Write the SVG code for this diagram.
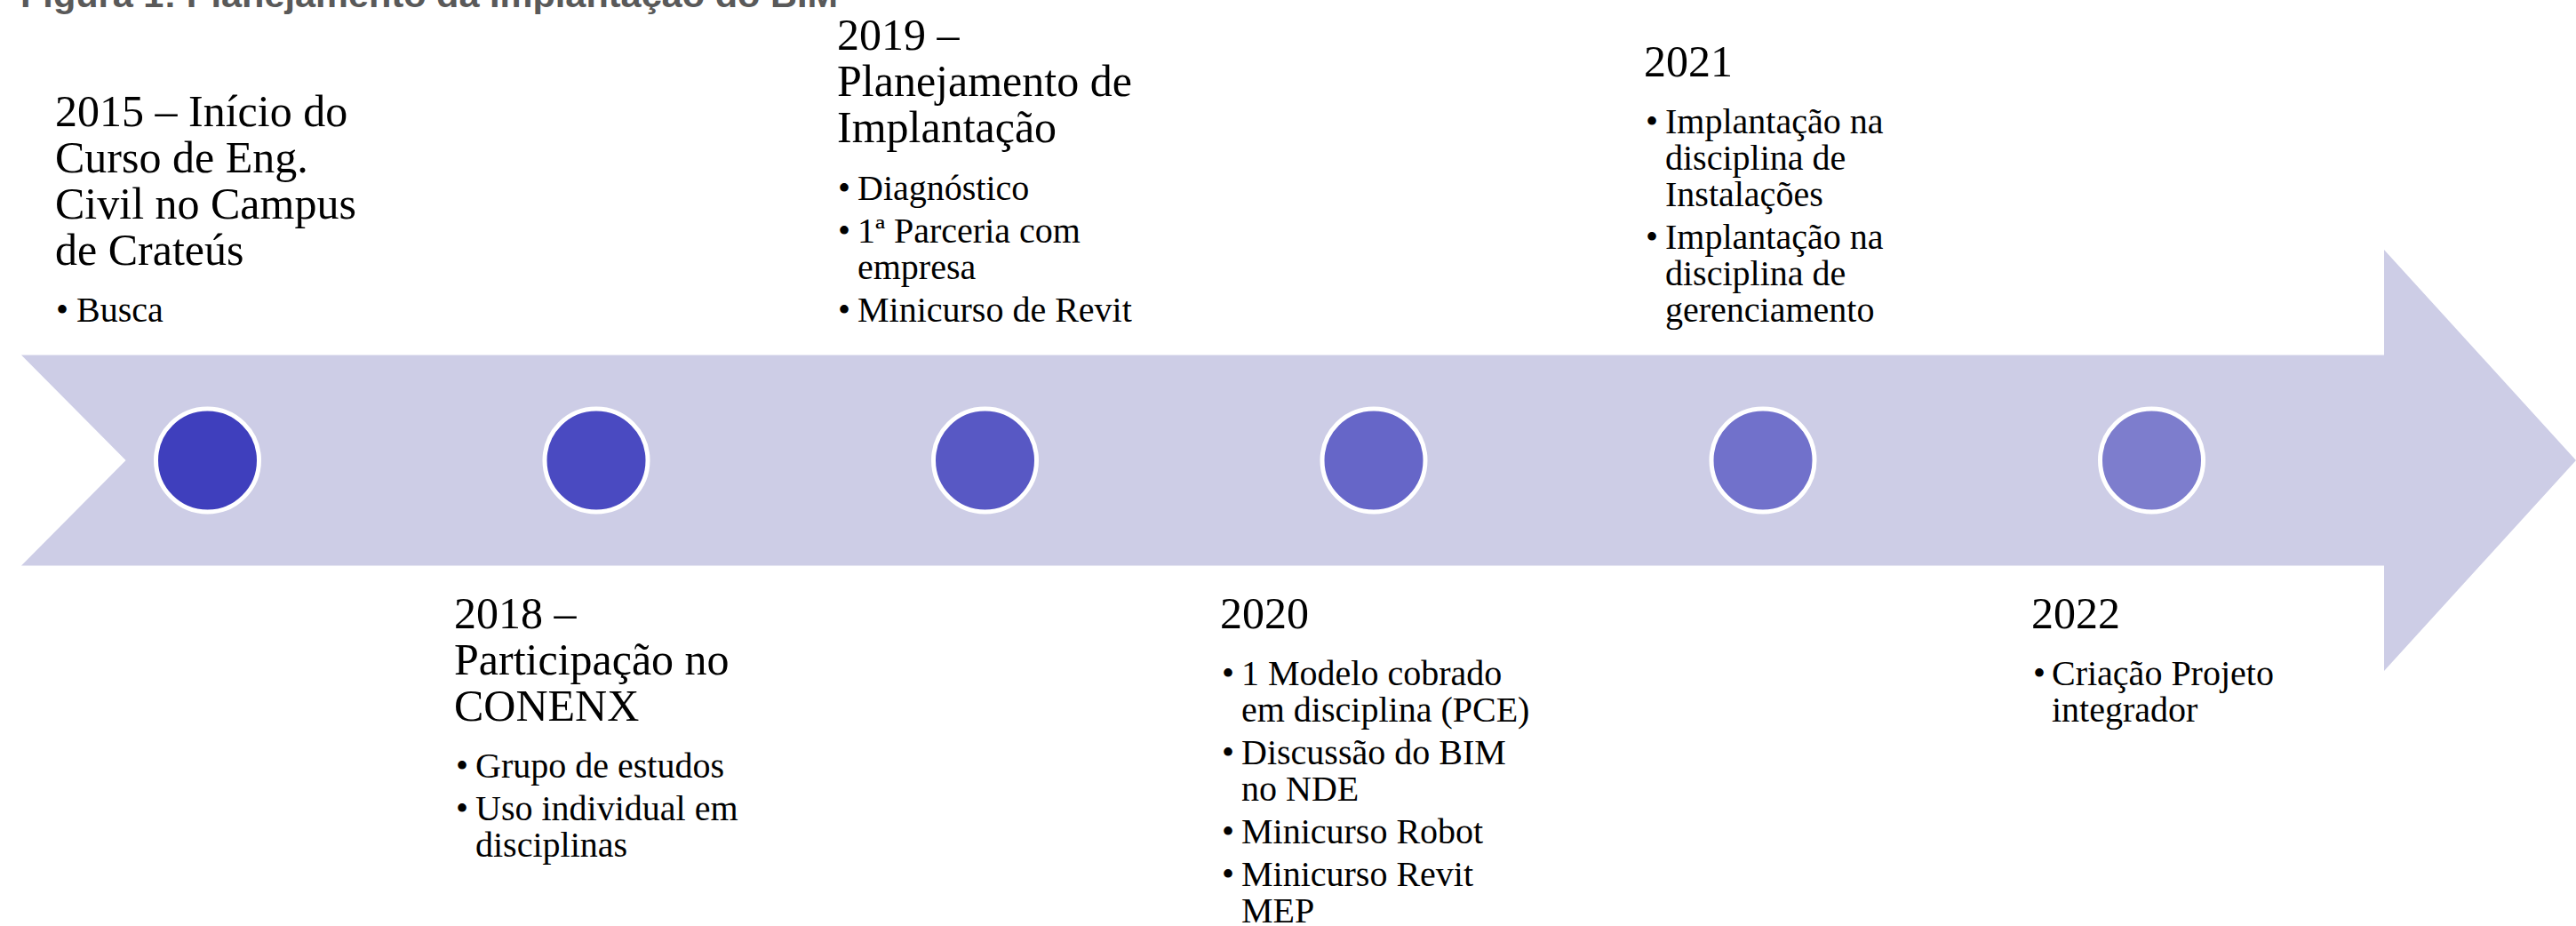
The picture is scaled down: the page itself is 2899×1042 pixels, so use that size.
<svg xmlns="http://www.w3.org/2000/svg" width="2899" height="1042" viewBox="0 0 2899 1042">
  <style>
    .cap { font-family: "Liberation Sans", Arial, sans-serif; font-weight: bold; font-size: 38px; fill: #595959; }
    .t { font-family: "Liberation Serif", "Times New Roman", serif; font-size: 50px; fill: #000; }
    .b { font-family: "Liberation Serif", "Times New Roman", serif; font-size: 40px; fill: #000; }
    .dot { stroke: #ffffff; stroke-width: 5; }
  </style>
  <rect x="0" y="0" width="2899" height="1042" fill="#ffffff"/>
  <text class="cap" x="23" y="8" textLength="920" lengthAdjust="spacingAndGlyphs">Figura 1: Planejamento da Implantação do BIM</text>

  <g id="connectors">
    <polygon id="timeline-arrow" points="24,399.5 2683,399.5 2683,281 2899,518 2683,755 2683,636.5 24,636.5 141.6,518" fill="#cdcde6"/>
  </g>

  <g id="node-2015">
    <circle class="dot" cx="233.5" cy="518" r="58" fill="#3f3fbd"/>
    <text class="t" x="62"><tspan x="62" y="142">2015 – Início do</tspan><tspan x="62" y="194">Curso de Eng.</tspan><tspan x="62" y="246">Civil no Campus</tspan><tspan x="62" y="298">de Crateús</tspan></text>
    <text class="b"><tspan x="63" y="362">•</tspan><tspan x="86" y="362">Busca</tspan></text>
  </g>

  <g id="node-2018">
    <circle class="dot" cx="671" cy="518" r="58" fill="#4a4ac1"/>
    <text class="t"><tspan x="511" y="707">2018 –</tspan><tspan x="511" y="759">Participação no</tspan><tspan x="511" y="811">CONENX</tspan></text>
    <text class="b"><tspan x="513" y="875">•</tspan><tspan x="535" y="875">Grupo de estudos</tspan><tspan x="513" y="923">•</tspan><tspan x="535" y="923">Uso individual em</tspan><tspan x="535" y="964">disciplinas</tspan></text>
  </g>

  <g id="node-2019">
    <circle class="dot" cx="1108.5" cy="518" r="58" fill="#5858c4"/>
    <text class="t"><tspan x="942" y="56">2019 –</tspan><tspan x="942" y="108">Planejamento de</tspan><tspan x="942" y="160">Implantação</tspan></text>
    <text class="b"><tspan x="943" y="225">•</tspan><tspan x="965" y="225">Diagnóstico</tspan><tspan x="943" y="273">•</tspan><tspan x="965" y="273">1ª Parceria com</tspan><tspan x="965" y="314">empresa</tspan><tspan x="943" y="362">•</tspan><tspan x="965" y="362">Minicurso de Revit</tspan></text>
  </g>

  <g id="node-2020">
    <circle class="dot" cx="1546" cy="518" r="58" fill="#6666c8"/>
    <text class="t"><tspan x="1373" y="707">2020</tspan></text>
    <text class="b"><tspan x="1375" y="771">•</tspan><tspan x="1397" y="771">1 Modelo cobrado</tspan><tspan x="1397" y="812">em disciplina (PCE)</tspan><tspan x="1375" y="860">•</tspan><tspan x="1397" y="860">Discussão do BIM</tspan><tspan x="1397" y="901">no NDE</tspan><tspan x="1375" y="949">•</tspan><tspan x="1397" y="949">Minicurso Robot</tspan><tspan x="1375" y="997">•</tspan><tspan x="1397" y="997">Minicurso Revit</tspan><tspan x="1397" y="1038">MEP</tspan></text>
  </g>

  <g id="node-2021">
    <circle class="dot" cx="1984" cy="518" r="58" fill="#7171cb"/>
    <text class="t"><tspan x="1850" y="86">2021</tspan></text>
    <text class="b"><tspan x="1852" y="150">•</tspan><tspan x="1874" y="150">Implantação na</tspan><tspan x="1874" y="191">disciplina de</tspan><tspan x="1874" y="232">Instalações</tspan><tspan x="1852" y="280">•</tspan><tspan x="1874" y="280">Implantação na</tspan><tspan x="1874" y="321">disciplina de</tspan><tspan x="1874" y="362">gerenciamento</tspan></text>
  </g>

  <g id="node-2022">
    <circle class="dot" cx="2421.5" cy="518" r="58" fill="#7d7dcd"/>
    <text class="t"><tspan x="2286" y="707">2022</tspan></text>
    <text class="b"><tspan x="2288" y="771">•</tspan><tspan x="2309" y="771">Criação Projeto</tspan><tspan x="2309" y="812">integrador</tspan></text>
  </g>
</svg>
